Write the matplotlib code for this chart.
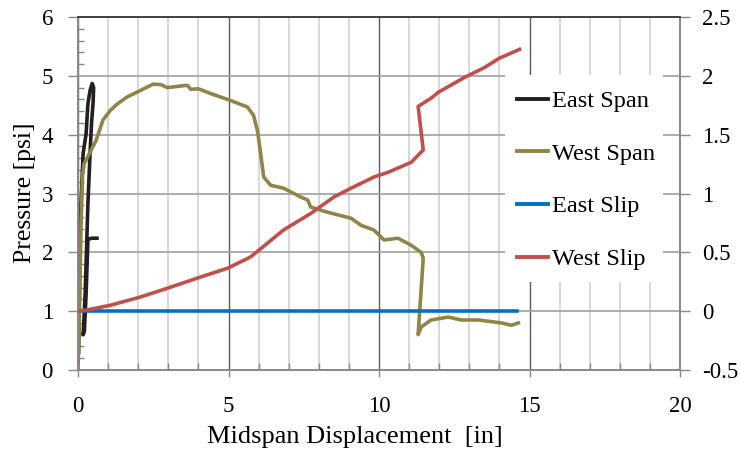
import matplotlib
matplotlib.use('Agg')
import matplotlib.pyplot as plt
from matplotlib.patches import Rectangle
from matplotlib.ticker import MultipleLocator, FuncFormatter
from matplotlib.lines import Line2D

plt.rcParams['font.family'] = ['Liberation Serif', 'DejaVu Serif']

# ---- data ----
east_span_x = [0.02, 0.05, 0.07, 0.10, 0.17, 0.27, 0.33, 0.40, 0.47, 0.52, 0.50, 0.45,
               0.40, 0.33, 0.28, 0.23, 0.19, 0.17, 0.21, 0.27, 0.33, 0.45, 0.63]
east_span_y = [0.30, 1.50, 2.30, 2.83, 3.68, 4.02, 4.53, 4.75, 4.87, 4.80, 4.53, 4.20,
               3.68, 2.83, 2.00, 1.19, 0.80, 0.60, 0.65, 1.30, 2.22, 2.24, 2.24]

west_span_x = [0.00, 0.05, 0.10, 0.15, 0.20, 0.40, 0.60, 0.83, 1.07, 1.30, 1.63, 2.07,
               2.50, 2.75, 2.97, 3.30, 3.63, 3.75, 4.00, 4.40, 5.07, 5.63, 5.83, 5.97,
               6.17, 6.40, 6.83, 7.40, 7.63, 7.73, 8.30, 9.07, 9.40, 9.83, 10.17, 10.63,
               11.07, 11.40, 11.47, 11.30, 11.40, 11.73, 12.30, 12.73, 13.30, 14.07, 14.40, 14.63]
west_span_y = [0.00, 1.00, 2.50, 3.30, 3.50, 3.70, 3.90, 4.25, 4.41, 4.52, 4.64, 4.75,
               4.86, 4.85, 4.80, 4.82, 4.84, 4.77, 4.78, 4.70, 4.58, 4.47, 4.33, 4.05,
               3.28, 3.14, 3.09, 2.94, 2.89, 2.77, 2.68, 2.58, 2.46, 2.38, 2.21, 2.24,
               2.12, 2.00, 1.90, 0.60, 0.73, 0.85, 0.90, 0.85, 0.85, 0.80, 0.76, 0.80]

east_slip_x = [0.17, 3.0, 6.0, 9.0, 12.0, 14.6]
east_slip_y = [0.0, 0.0, 0.0, 0.0, 0.0, 0.0]

west_slip_x = [0.0, 0.3, 1.07, 2.07, 2.97, 4.07, 4.97, 5.73, 6.83, 7.73, 8.5, 9.07,
               9.83, 10.3, 11.07, 11.47, 11.3, 11.73, 11.97, 12.83, 13.5, 14.0, 14.67]
west_slip_y = [0.0, 0.01, 0.05, 0.12, 0.195, 0.29, 0.365, 0.46, 0.69, 0.83, 0.97, 1.045,
               1.14, 1.18, 1.265, 1.37, 1.74, 1.81, 1.86, 1.985, 2.07, 2.15, 2.225]

series_names = ['East Span', 'West Span', 'East Slip', 'West Slip']
series_colors = ['#231f20', '#8f8548', '#0070c0', '#c0504d']

x_ticks = [0, 5, 10, 15, 20]
left_ticks = [0, 1, 2, 3, 4, 5, 6]
right_ticks = [-0.5, 0, 0.5, 1, 1.5, 2, 2.5]

# ---- figure ----
fig = plt.figure(figsize=(7.4, 4.55), dpi=100)
ax = fig.add_axes([78/740, 1-370/455, 602/740, 353/455])
ax2 = ax.twinx()

lw = 2.6
ax.plot(east_span_x, east_span_y, color=series_colors[0], lw=lw, zorder=3)
ax.plot(west_span_x, west_span_y, color=series_colors[1], lw=lw, zorder=3)
ax2.plot(east_slip_x, east_slip_y, color=series_colors[2], lw=lw, zorder=3)
ax2.plot(west_slip_x, west_slip_y, color=series_colors[3], lw=lw, zorder=3)

ax.set_xlim(0, 20)
ax.set_ylim(0, 6)
ax2.set_ylim(-0.5, 2.5)

ax.set_xticks(x_ticks)
ax.xaxis.set_minor_locator(MultipleLocator(1))
ax.set_yticks(left_ticks)
ax.yaxis.set_minor_locator(MultipleLocator(0.2))
ax2.set_yticks(right_ticks)
ax2.yaxis.set_major_formatter(FuncFormatter(lambda v, p: ('%g' % v)))

ax.set_axisbelow(True)
ax.grid(which='minor', axis='x', color='#d4d4d4', lw=1.3)
ax.grid(which='major', axis='x', color='#5a5a5a', lw=1.0)
ax.grid(which='major', axis='y', color='#a6a6a6', lw=1.3)

tc = '#888888'
fs = 16.5
ax.tick_params(axis='x', which='major', direction='out', length=5, color=tc, width=1,
               labelsize=fs, pad=14)
ax.tick_params(axis='x', which='minor', direction='in', length=5, color=tc, width=1)
ax.tick_params(axis='y', which='major', direction='out', length=7, color=tc, width=1,
               labelsize=fs, pad=11)
ax.tick_params(axis='y', which='minor', direction='in', length=4, color=tc, width=1)
ax2.tick_params(axis='y', which='major', direction='out', length=7, color=tc, width=1,
                labelsize=fs, pad=9)

for a in (ax, ax2):
    for s in ['left', 'bottom', 'right']:
        a.spines[s].set_color(tc)
        a.spines[s].set_linewidth(1.2)
    a.spines['top'].set_color('#404040')
    a.spines['top'].set_linewidth(1.2)

fig.text(355/740, 1-437/455, 'Midspan Displacement  [in]', ha='center', va='center', fontsize=19)
fig.text(25/740, 1-193/455, 'Pressure [psi]', ha='center', va='center', rotation=90, fontsize=18.5)

# legend area
x0 = (505-78)/602
x1 = (663-78)/602
y1 = (370-75)/353
y0 = (370-282)/353
ax2.add_patch(Rectangle((x0, y0), x1-x0, y1-y0, transform=ax2.transAxes,
                        facecolor='white', edgecolor='none', zorder=1))
handles = [Line2D([], [], color=c, lw=2.8) for c in series_colors]
leg = ax2.legend(handles, series_names, loc='upper left',
                 bbox_to_anchor=((517-78)/602, (370-90)/353), frameon=False,
                 fontsize=17.6, handlelength=1.25, handletextpad=0.2,
                 labelspacing=1.25, borderpad=0, borderaxespad=0)
leg.set_zorder(5)

fig.savefig('out.png', dpi=100)
